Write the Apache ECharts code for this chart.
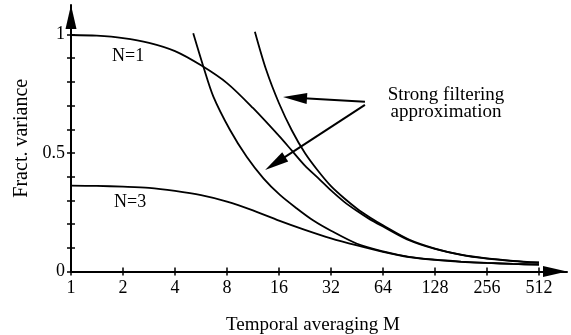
<!DOCTYPE html>
<html>
<head>
<meta charset="utf-8">
<script src="https://cdn.jsdelivr.net/npm/echarts@6/dist/echarts.min.js"></script>
<style>
  html, body { margin: 0; padding: 0; background: #fff; }
  #chart { width: 571px; height: 335px; }
</style>
</head>
<body>
<div id="chart"></div>
<script>
// Fractional variance vs temporal averaging M (log2 axis)
const n1M = [1, 1.41, 2, 2.83, 4, 5.66, 8, 11.3, 16, 19, 22.6, 26.9, 32, 38, 45.3, 53.8, 64, 90.5, 128, 181, 256, 362, 512];
const n1Var = [0.998, 0.995, 0.985, 0.965, 0.93, 0.87, 0.795, 0.69, 0.572, 0.51, 0.447, 0.395, 0.342, 0.295, 0.255, 0.22, 0.19, 0.132, 0.095, 0.07, 0.054, 0.044, 0.037];

const n3M = [1, 1.41, 2, 2.83, 4, 5.66, 8, 11.3, 16, 22.6, 32, 45.3, 64, 90.5, 128, 181, 256, 362, 512];
const n3Var = [0.362, 0.361, 0.358, 0.353, 0.34, 0.322, 0.295, 0.258, 0.215, 0.176, 0.14, 0.11, 0.083, 0.061, 0.049, 0.041, 0.036, 0.032, 0.029];

// strong filtering approximation curves
const sfa1M = [11.6, 13.5, 16, 19, 22.6, 26.9, 32, 38, 45.3, 53.8, 64, 90.5, 128, 181, 256, 362, 512];
const sfa1Var = [1.012, 0.85, 0.71, 0.595, 0.5, 0.425, 0.36, 0.31, 0.265, 0.228, 0.195, 0.135, 0.097, 0.071, 0.055, 0.045, 0.038];

const sfa3M = [5.1, 5.84, 6.67, 8.33, 10.4, 13, 16.2, 20.2, 25.3, 32, 45.3, 64, 90.5, 128, 181, 256, 362, 512];
const sfa3Var = [1.005, 0.864, 0.738, 0.597, 0.484, 0.393, 0.323, 0.267, 0.215, 0.172, 0.117, 0.085, 0.062, 0.05, 0.042, 0.036, 0.032, 0.029];

const xTicks = [1, 2, 4, 8, 16, 32, 64, 128, 256, 512];
const yTicks = [0, 0.1, 0.2, 0.3, 0.4, 0.5, 0.6, 0.7, 0.8, 0.9, 1];
const yLabels = [0, 0.5, 1];

// annotation arrows: [tail, head centre] in data coords
const arrowLines = [
  [[50.3, 0.716], [19.8, 0.733]],
  [[50.3, 0.703], [15.2, 0.456]],
];

const FONT = '"Liberation Serif", "DejaVu Serif", serif';
const INK = '#000';

const pairs = (xs, ys) => xs.map((x, i) => [x, ys[i]]);

const chart = echarts.init(document.getElementById('chart'), null, { renderer: 'canvas' });

const curve = (name, data, extra) => Object.assign({
  name,
  type: 'line',
  data,
  smooth: 0.3,
  symbol: 'none',
  silent: true,
  lineStyle: { color: INK, width: 1.8 },
}, extra || {});

const ARROW_H = 24;

chart.setOption({
  animation: false,
  backgroundColor: '#fff',
  textStyle: { fontFamily: FONT, color: INK },
  grid: { left: 71, right: 4, top: 5, bottom: 63.5, outerBoundsMode: 'none' },
  xAxis: [
    {
      type: 'log',
      logBase: 2,
      min: 1,
      max: 743.5,
      splitLine: { show: false },
      axisLine: {
        lineStyle: { color: INK, width: 2 },
        symbol: ['none', 'triangle'],
        symbolSize: [11, ARROW_H],
        symbolOffset: [0, -ARROW_H / 2],
      },
      axisTick: { customValues: xTicks, length: 4, lineStyle: { color: INK, width: 1.5 } },
      axisLabel: { customValues: xTicks, margin: 8, fontSize: 18, fontFamily: FONT, color: INK },
      name: 'Temporal averaging M',
      nameLocation: 'middle',
      nameGap: 44,
      nameTextStyle: { fontSize: 19, fontFamily: FONT, color: INK, padding: [0, 12, 0, 0] },
    },
    {
      type: 'log',
      logBase: 2,
      min: 1,
      max: 743.5,
      position: 'bottom',
      splitLine: { show: false },
      axisLine: { show: false },
      axisTick: { customValues: xTicks, inside: true, length: 4, lineStyle: { color: INK, width: 1.5 } },
      axisLabel: { show: false },
    },
  ],
  yAxis: [
    {
      type: 'value',
      min: 0,
      max: 1.1245,
      splitLine: { show: false },
      axisLine: {
        show: true,
        lineStyle: { color: INK, width: 2 },
        symbol: ['none', 'triangle'],
        symbolSize: [11, ARROW_H],
        symbolOffset: [0, -ARROW_H / 2],
      },
      axisTick: { show: true, customValues: yTicks, length: 4, lineStyle: { color: INK, width: 1.5 } },
      axisLabel: { customValues: yLabels, margin: 6, fontSize: 18, fontFamily: FONT, color: INK },
      name: 'Fract. variance',
      nameLocation: 'middle',
      nameGap: 38,
      nameTextStyle: { fontSize: 20, fontFamily: FONT, color: INK },
    },
    {
      type: 'value',
      min: 0,
      max: 1.1245,
      position: 'left',
      splitLine: { show: false },
      axisLine: { show: false },
      axisTick: { show: true, customValues: yTicks, inside: true, length: 4, lineStyle: { color: INK, width: 1.5 } },
      axisLabel: { show: false },
    },
  ],
  series: [
    curve('N=1', pairs(n1M, n1Var)),
    curve('N=3', pairs(n3M, n3Var)),
    curve('SFA N=3', pairs(sfa3M, sfa3Var)),
    curve('SFA N=1', pairs(sfa1M, sfa1Var), {
      markLine: {
        silent: true,
        symbol: ['none', 'triangle'],
        symbolSize: [11, 24],
        label: { show: false },
        lineStyle: { color: INK, width: 2, type: 'solid' },
        data: arrowLines.map(([a, b]) => [{ coord: a }, { coord: b }]),
      },
    }),
  ],
  graphic: [
    { type: 'text', left: 112, top: 47, style: { text: 'N=1', font: '18px ' + FONT, fill: INK } },
    { type: 'text', left: 114, top: 193, style: { text: 'N=3', font: '18px ' + FONT, fill: INK } },
    {
      type: 'text', x: 446, y: 87,
      style: { text: 'Strong filtering\napproximation', font: '19px ' + FONT, fill: INK, align: 'center', lineHeight: 17 },
    },
  ],
});
</script>
</body>
</html>
